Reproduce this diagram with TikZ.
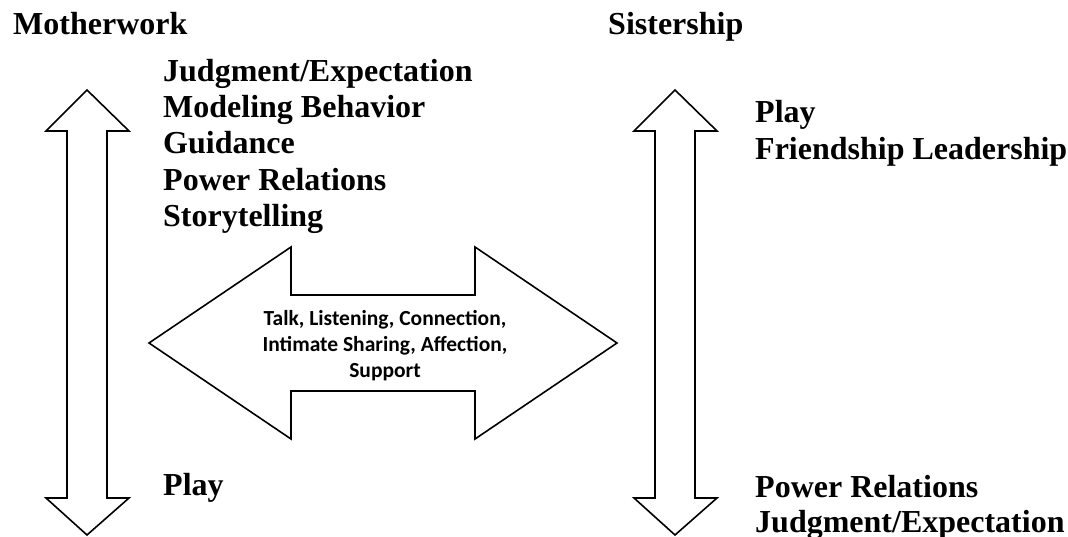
\documentclass[tikz,border=0pt]{standalone}
\usepackage{fontspec}
\setmainfont{Liberation Serif}
\newfontfamily\calfont{Carlito}
\begin{document}
\begin{tikzpicture}[x=1pt,y=-1pt,
  blockarrow/.style={draw=black,line width=1.6pt,fill=white,line join=miter},
  lbl/.style={anchor=base west,inner sep=0pt,font=\fontsize{32}{36}\selectfont\bfseries},
  midlbl/.style={align=center,inner sep=0pt,font=\calfont\fontsize{21.5}{26}\selectfont\bfseries}]
\useasboundingbox (0,0) rectangle (1068,537);
% left vertical double arrow
\draw[blockarrow] (87,90) -- (129,131) -- (107,131) -- (107,498) -- (129,498) -- (87,535)
  -- (46,498) -- (67,498) -- (67,131) -- (46,131) -- cycle;
% right vertical double arrow
\draw[blockarrow] (675,90) -- (717,131) -- (695,131) -- (695,498) -- (717,498) -- (675,535)
  -- (634,498) -- (655,498) -- (655,131) -- (634,131) -- cycle;
% horizontal double arrow
\draw[blockarrow] (149,343) -- (291,247) -- (291,295) -- (475,295) -- (475,247) -- (617,343)
  -- (475,439) -- (475,391) -- (291,391) -- (291,439) -- cycle;
\node[midlbl] (mid) at (385,346) {Talk, Listening, Connection,\\Intimate Sharing, Affection,\\Support};
% titles
\node[lbl] (mw) at (13,35) {Motherwork};
\node[lbl] (ss) at (608,35) {Sistership};
% left list
\node[lbl] (l1) at (163,82) {Judgment/Expectation};
\node[lbl] (l2) at (163,118) {Modeling Behavior};
\node[lbl] (l3) at (163,154) {Guidance};
\node[lbl] (l4) at (163,191) {Power Relations};
\node[lbl] (l5) at (163,227) {Storytelling};
\node[lbl] (l6) at (163,495) {Play};
% right list
\node[lbl] (r1) at (755,123) {Play};
\node[lbl] (r2) at (755,160) {Friendship Leadership};
\node[lbl] (r3) at (755,497) {Power Relations};
\node[lbl] (r4) at (755,532) {Judgment/Expectation};
\end{tikzpicture}
\end{document}
